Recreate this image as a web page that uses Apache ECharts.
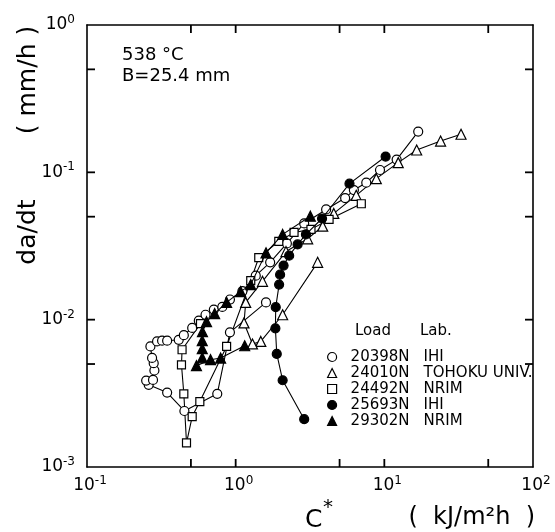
<!DOCTYPE html>
<html>
<head>
<meta charset="utf-8">
<script src="https://cdn.jsdelivr.net/npm/echarts@6/dist/echarts.min.js"></script>
<style>
html, body { margin: 0; padding: 0; background: #fff; }
#main { width: 555px; height: 532px; }
</style>
</head>
<body>
<div id="main"></div>
<script>
var SANS = "'DejaVu Sans', sans-serif";

// axis ticks (labels fall on the decades)
var xTickValues = [0.5, 1, 5, 10, 50];
var yTickValues = [0.005, 0.01, 0.05, 0.1, 0.5];

// legend
var loads = ['20398N', '24010N', '24492N', '25693N', '29302N'];
var labs = ['IHI', 'TOHOKU UNIV.', 'NRIM', 'IHI', 'NRIM'];

// C* (kJ/m2h), da/dt (mm/h)
var c20398 = [[1.60,0.0131],[0.915,0.0082],[0.752,0.00314],[0.452,0.0024],[0.346,0.0032],[0.26,0.00361],
    [0.25,0.00386],[0.278,0.0039],[0.284,0.00452],[0.281,0.00507],[0.274,0.0055],[0.267,0.00658],
    [0.296,0.00712],[0.32,0.0072],[0.346,0.0072],[0.414,0.0073],[0.448,0.00785],[0.51,0.00879],
    [0.565,0.00984],[0.627,0.0108],[0.713,0.0117],[0.813,0.0122],[0.915,0.0137],[1.11,0.0156],
    [1.365,0.0199],[1.706,0.0245],[2.21,0.0329],[2.89,0.045],[4.06,0.056],[5.45,0.0669],
    [6.24,0.0758],[7.56,0.0851],[9.35,0.1037],[12.1,0.122],[16.9,0.189]];
var c24010 = [[3.56,0.0245],[2.07,0.0108],[1.476,0.00712],[1.297,0.00684],[1.138,0.0095],[1.168,0.0131],
    [1.515,0.0182],[2.18,0.029],[3.05,0.0354],[3.85,0.0431],[4.57,0.0526],[6.47,0.0698],
    [8.83,0.0906],[12.4,0.1164],[16.5,0.1418],[23.9,0.163],[32.8,0.1814]];
var c24492 = [[0.58,0.0094],[0.436,0.00625],[0.432,0.00494],[0.448,0.00314],[0.467,0.00146],[0.51,0.0022],
    [0.574,0.00278],[0.869,0.00658],[1.263,0.0184],[1.43,0.0264],[1.95,0.034],[2.47,0.0391],
    [3.21,0.041],[4.25,0.0479],[7.0,0.0612]];
var c25693 = [[2.89,0.00211],[2.07,0.00388],[1.89,0.00585],[1.85,0.00874],[1.86,0.01216],[1.96,0.0173],
    [1.99,0.0202],[2.1,0.0233],[2.29,0.0272],[2.61,0.0324],[2.97,0.0379],[3.81,0.0486],
    [5.83,0.0838],[10.2,0.128]];
var c29302 = [[1.15,0.00665],[0.792,0.00549],[0.678,0.00535],[0.545,0.00487],[0.596,0.00551],[0.596,0.00635],
    [0.596,0.0072],[0.598,0.00829],[0.637,0.00969],[0.722,0.011],[0.869,0.0131],[1.08,0.0155],
    [1.263,0.0173],[1.6,0.0284],[2.07,0.0379],[3.18,0.0504]];

var seriesData = [c20398, c24010, c24492, c25693, c29302];
var symbols = ['circle', 'triangle', 'rect', 'circle', 'triangle'];
var symbolSizes = [9, 10, 8, 9, 10];
var filled = [false, false, false, true, true];

function powLabel(v) {
    var e = Math.round(Math.log(v) / Math.LN10);
    return '{b|10}{e|' + (e < 0 ? '-' + (-e) : e) + '}';
}
var labelRich = {
    b: { fontFamily: SANS, fontSize: 17, color: '#000', lineHeight: 22 },
    e: { fontFamily: SANS, fontSize: 12, color: '#000', lineHeight: 12, verticalAlign: 'top' }
};

function logAxis(dir, pos, showLabel) {
    var ax = {
        type: 'log',
        min: dir === 'x' ? 0.1 : 0.001,
        max: dir === 'x' ? 100 : 1,
        position: pos,
        axisLine: { show: true, lineStyle: { color: '#000', width: 1.6 } },
        axisTick: { show: false },
        axisLabel: { show: showLabel, formatter: powLabel, rich: labelRich },
        splitLine: { show: false }
    };
    if (dir === 'x') {
        ax.axisLabel.margin = 8;
        ax.axisLabel.padding = [0, 0, 0, 6];
    } else {
        ax.axisLabel.margin = 12;
    }
    return ax;
}

var series = seriesData.map(function (d, i) {
    return {
        name: loads[i],
        type: 'line',
        data: d,
        symbol: symbols[i],
        symbolSize: symbolSizes[i],
        showAllSymbol: true,
        lineStyle: { color: '#000', width: 1.1 },
        itemStyle: { color: filled[i] ? '#000' : '#fff', borderColor: '#000', borderWidth: 1.2 },
        emphasis: { disabled: true },
        z: filled[i] ? 3 : 2
    };
});

var texts = [
    { type: 'text', x: 122, y: 55, style: { text: '538 °C', fill: '#000', font: '18px ' + SANS, textAlign: 'left', textVerticalAlign: 'middle' } },
    { type: 'text', x: 122, y: 76, style: { text: 'B=25.4 mm', fill: '#000', font: '18px ' + SANS, textAlign: 'left', textVerticalAlign: 'middle' } },
    { type: 'text', x: 355, y: 331, style: { text: 'Load', fill: '#000', font: '15px ' + SANS, textAlign: 'left', textVerticalAlign: 'middle' } },
    { type: 'text', x: 420, y: 331, style: { text: 'Lab.', fill: '#000', font: '15px ' + SANS, textAlign: 'left', textVerticalAlign: 'middle' } },
    { type: 'text', x: 305, y: 520, style: { text: 'C', fill: '#000', font: '25px ' + SANS, textAlign: 'left', textVerticalAlign: 'middle' } },
    { type: 'text', x: 323, y: 508, style: { text: '*', fill: '#000', font: '20px ' + SANS, textAlign: 'left', textVerticalAlign: 'middle' } },
    { type: 'text', x: 535, y: 518, style: { text: '(  kJ/m²h  )', fill: '#000', font: '24px ' + SANS, textAlign: 'right', textVerticalAlign: 'middle' } },
    { type: 'text', x: 28, y: 232, rotation: Math.PI / 2, style: { text: 'da/dt', fill: '#000', font: '25px ' + SANS, textAlign: 'center', textVerticalAlign: 'middle' } },
    { type: 'text', x: 28, y: 80, rotation: Math.PI / 2, style: { text: '( mm/h )', fill: '#000', font: '25px ' + SANS, textAlign: 'center', textVerticalAlign: 'middle' } }
];

var myChart = echarts.init(document.getElementById('main'));
myChart.setOption({
    animation: false,
    backgroundColor: '#fff',
    grid: { left: 87, right: 22, top: 25, bottom: 65, outerBoundsMode: 'none' },
    xAxis: [
        logAxis('x', 'bottom', true),
        logAxis('x', 'top', false)
    ],
    yAxis: [
        logAxis('y', 'left', true),
        logAxis('y', 'right', false)
    ],
    legend: {
        orient: 'vertical',
        left: 322,
        top: 344,
        itemWidth: 9,
        itemHeight: 9,
        itemGap: 0,
        selectedMode: false,
        textStyle: {
            fontFamily: SANS, fontSize: 15, color: '#000', lineHeight: 16,
            rich: {
                z: { width: 9, fontFamily: SANS, fontSize: 15, lineHeight: 16 },
                a: { width: 73, fontFamily: SANS, fontSize: 15, lineHeight: 16 },
                b: { fontFamily: SANS, fontSize: 15, lineHeight: 16 }
            }
        },
        formatter: function (name) {
            var i = loads.indexOf(name);
            return '{z| }{a|' + loads[i] + '}{b|' + labs[i] + '}';
        },
        data: loads.map(function (n, i) {
            return {
                name: n,
                icon: symbols[i],
                itemStyle: { color: filled[i] ? '#000' : '#fff', borderColor: '#000', borderWidth: 1.2 }
            };
        })
    },
    graphic: texts,
    series: series
});

// inward ticks on all four sides, placed through the axis scales
var tickLen = 8;
var xL = myChart.convertToPixel({ xAxisIndex: 0 }, 0.1),
    xR = myChart.convertToPixel({ xAxisIndex: 0 }, 100),
    yB = myChart.convertToPixel({ yAxisIndex: 0 }, 0.001),
    yT = myChart.convertToPixel({ yAxisIndex: 0 }, 1);
var tickStyle = { stroke: '#000', lineWidth: 1.8 };
var ticks = [];
xTickValues.forEach(function (v) {
    var px = myChart.convertToPixel({ xAxisIndex: 0 }, v);
    ticks.push({ type: 'line', shape: { x1: px, y1: yB, x2: px, y2: yB - tickLen }, style: tickStyle, z: 10 });
    ticks.push({ type: 'line', shape: { x1: px, y1: yT, x2: px, y2: yT + tickLen }, style: tickStyle, z: 10 });
});
yTickValues.forEach(function (v) {
    var py = myChart.convertToPixel({ yAxisIndex: 0 }, v);
    ticks.push({ type: 'line', shape: { x1: xL, y1: py, x2: xL + tickLen, y2: py }, style: tickStyle, z: 10 });
    ticks.push({ type: 'line', shape: { x1: xR, y1: py, x2: xR - tickLen, y2: py }, style: tickStyle, z: 10 });
});
myChart.setOption({ graphic: texts.concat(ticks) });
</script>
</body>
</html>
